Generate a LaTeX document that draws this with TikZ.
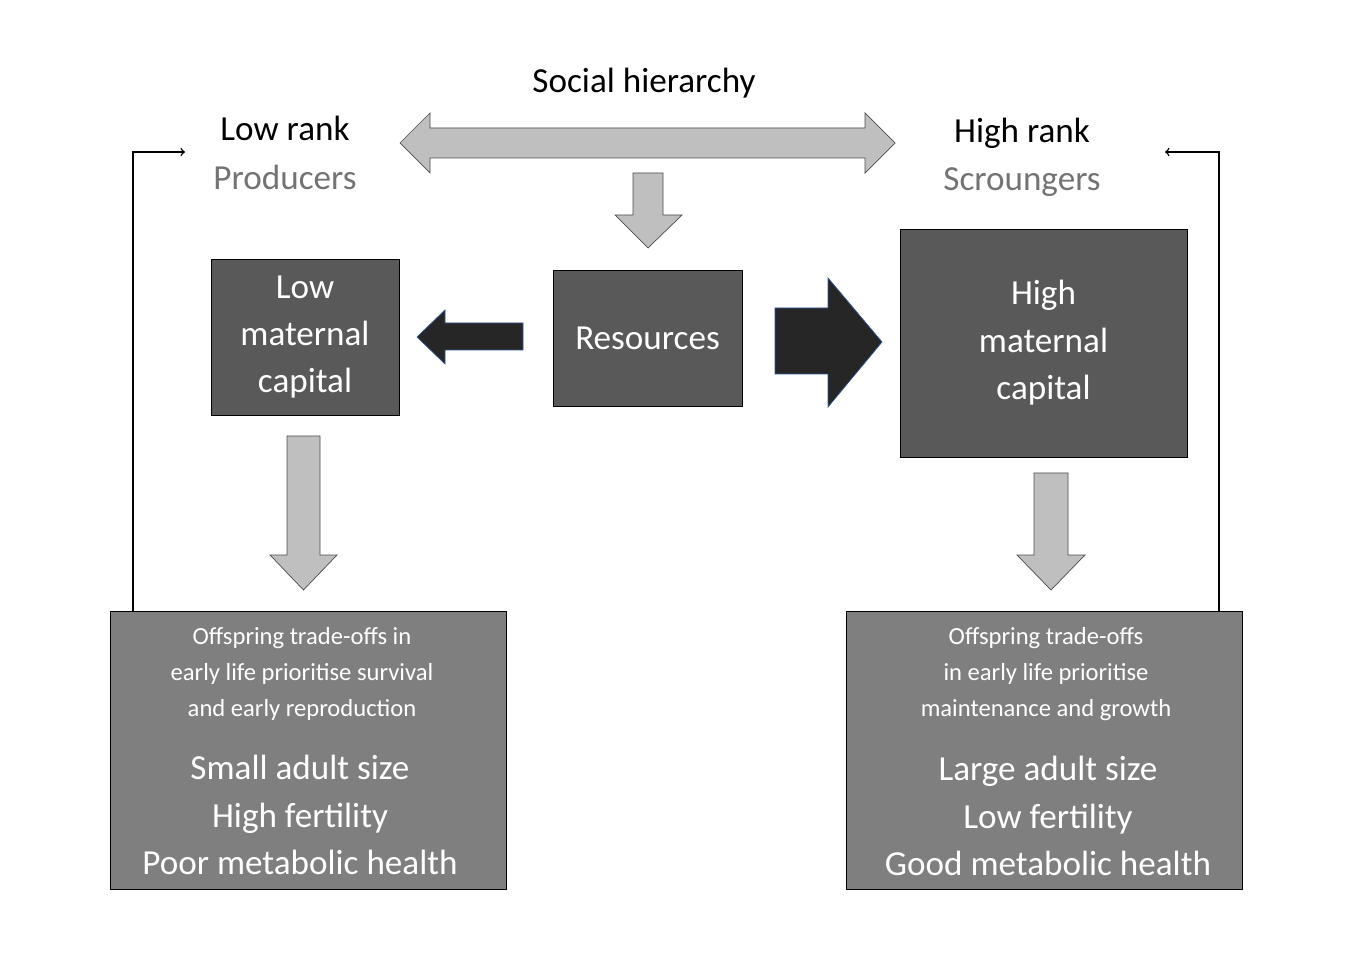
\documentclass[tikz,border=0pt]{standalone}
\usepackage{fontspec}
\setmainfont{Carlito}
\usetikzlibrary{positioning}
\definecolor{boxdark}{HTML}{595959}
\definecolor{boxmid}{HTML}{7F7F7F}
\definecolor{arrowgray}{HTML}{BFBFBF}
\definecolor{arrowdark}{HTML}{262626}
\definecolor{rimblue}{HTML}{2F5597}
\begin{document}
\begin{tikzpicture}[x=0.02cm, y=-0.02cm,
big/.style={font=\fontsize{20}{27}\selectfont},
small/.style={font=\fontsize{14}{20.4}\selectfont},
block/.style={draw=black, fill=boxdark, text=white, align=center, inner sep=0pt},
outcome/.style={draw=black, fill=boxmid, text=white, align=center, inner sep=0pt},
grayarrow/.style={draw=black!70, fill=arrowgray},
darkarrow/.style={draw=rimblue, fill=arrowdark}]

\useasboundingbox (0,0) rectangle (1351,955);

% labels
\node[big] (social) at (644,83) {Social hierarchy};
\node[big] (lowrank) at (285,128) {Low rank};
\node[big, text=black!55] (prod) at (285,177) {Producers};
\node[big] (highrank) at (1022,133) {High rank};
\node[big, text=black!55] (scroung) at (1022,182) {Scroungers};

% boxes
\node[block, big, minimum width=189*0.02cm, minimum height=136*0.02cm] (res) at (647.5,338.5) {Resources};
\node[block, big, minimum width=188*0.02cm, minimum height=156*0.02cm] (lowcap) at (305,337) {Low\\maternal\\capital};
\node[block, big, minimum width=287*0.02cm, minimum height=228*0.02cm] (highcap) at (1043.5,343) {High\\maternal\\capital};

\node[outcome, minimum width=396*0.02cm, minimum height=278*0.02cm] (lowout) at (308,750) {};
\node[small, text=white, align=center] at (302,674) {Offspring trade-offs in\\early life prioritise survival\\and early reproduction};
\node[big, text=white, align=center] at (300,815) {Small adult size\\High fertility\\Poor metabolic health};

\node[outcome, minimum width=396*0.02cm, minimum height=278*0.02cm] (highout) at (1044,750) {};
\node[small, text=white, align=center] at (1046,674) {Offspring trade-offs\\in early life prioritise\\maintenance and growth};
\node[big, text=white, align=center] at (1048,816) {Large adult size\\Low fertility\\Good metabolic health};

% block arrows
\draw[grayarrow] (400,143) -- (430,113) -- (430,128) -- (865,128) -- (865,113) -- (895,143)
  -- (865,173) -- (865,158) -- (430,158) -- (430,173) -- cycle;
\draw[grayarrow] (633,173) -- (663,173) -- (663,215) -- (682,215) -- (648,248) -- (615,215) -- (633,215) -- cycle;
\draw[grayarrow] (287,436) -- (320,436) -- (320,555) -- (337,555) -- (303.5,590) -- (270,555) -- (287,555) -- cycle;
\draw[grayarrow] (1034,473) -- (1068,473) -- (1068,555) -- (1085,555) -- (1051,590) -- (1017,555) -- (1034,555) -- cycle;
\draw[darkarrow] (523,323) -- (445,323) -- (445,310) -- (417,337) -- (445,364) -- (445,350) -- (523,350) -- cycle;
\draw[darkarrow] (775,308) -- (828,308) -- (828,278) -- (882,342) -- (828,407) -- (828,374) -- (775,374) -- cycle;

% feedback
\coordinate (lowin) at (185,152);
\coordinate (highin) at (1165,152);
\draw[thick, ->] (lowout.north west -| 133,0) -- (133,152) -- (lowin);
\draw[thick, ->] (highout.north east -| 1219,0) -- (1219,152) -- (highin);
\end{tikzpicture}
\end{document}
